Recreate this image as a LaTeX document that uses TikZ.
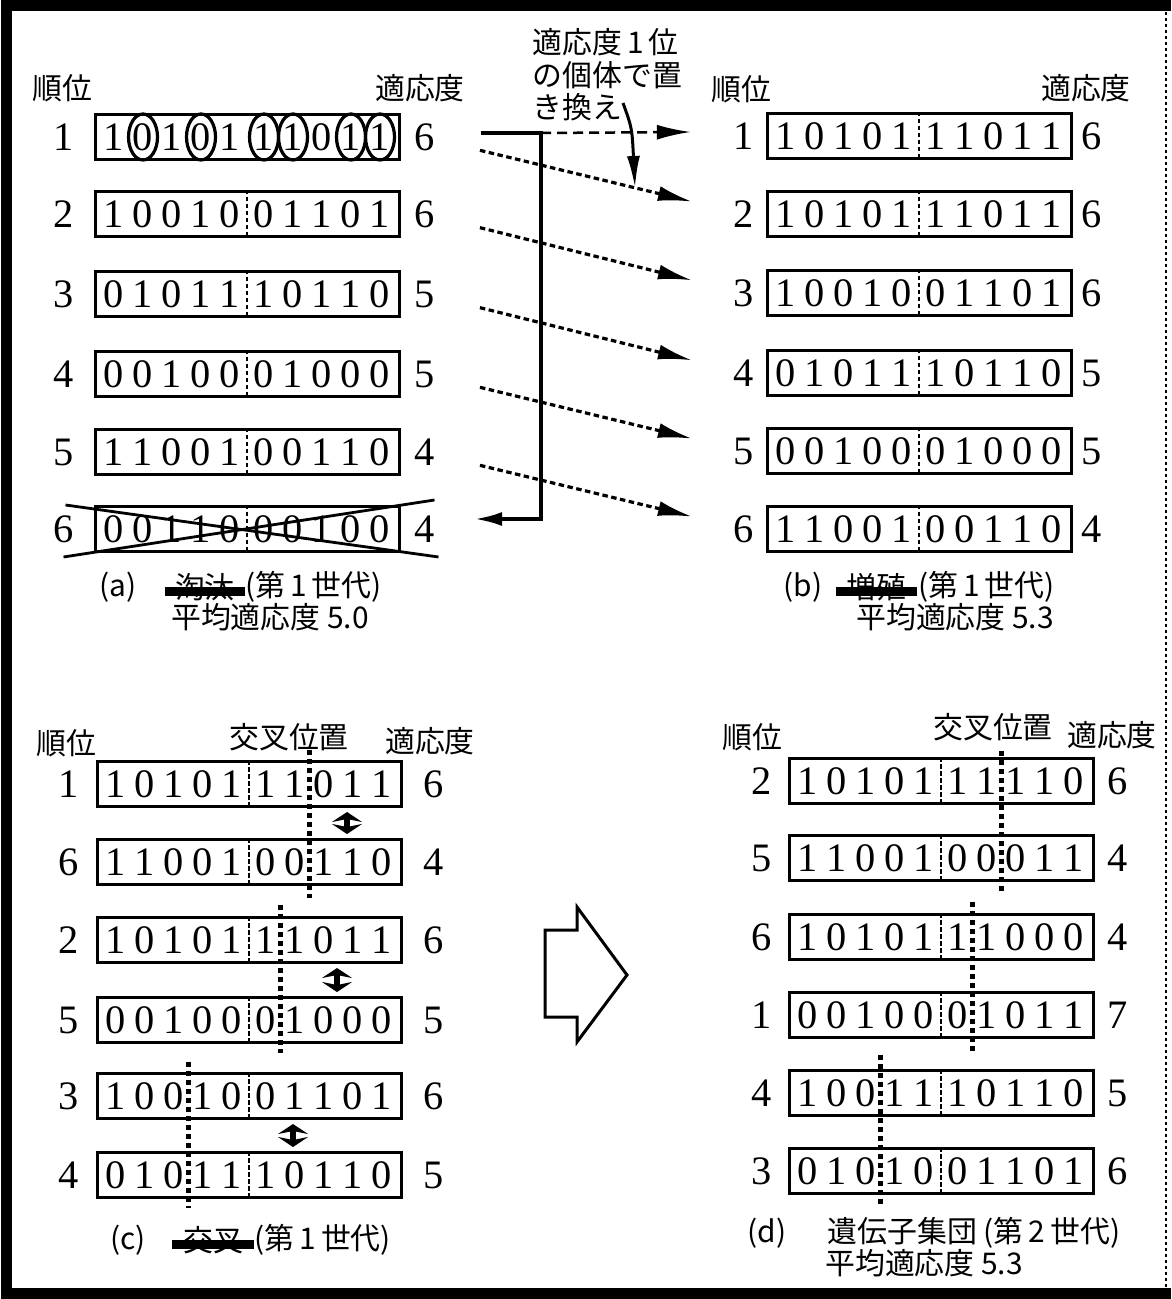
\documentclass[tikz,border=0pt]{standalone}
\usepackage{fontspec}
\setmainfont{Liberation Serif}
\newfontfamily\jp{Noto Sans CJK JP}
\usetikzlibrary{arrows.meta,positioning,calc,shapes.geometric}

% one chromosome: name, centre, bits, rank, fitness
\newcommand\chromo[5]{%
  \node[chrom] (#1) at (#2) {};
  \node[num, left=\rgap of #1] (#1r) {#4};
  \node[num, right=\fgap of #1] (#1f) {#5};
  \foreach \b [count=\i] in {#3} {
    \pgfmathsetmacro\bx{(\i<6) ? (-133+29*(\i-1)) : (17+29*(\i-6))}
    \node[bit] (#1b\i) at ($(#1)+(\bx,0)$) {\b};
  }
}

\begin{document}
\begin{tikzpicture}[
    x=0.1mm, y=-0.1mm,
    chrom/.style={draw, line width=0.3mm, minimum width=30.4mm, minimum height=4.5mm, inner sep=0pt},
    bit/.style={font=\fontsize{11.5}{12}\selectfont, inner sep=0pt},
    num/.style={font=\fontsize{11.5}{12}\selectfont, inner sep=1pt},
    head/.style={font=\jp\fontsize{8.5}{9}\selectfont, inner sep=0pt},
    cut/.style={line width=0.28mm, dash pattern=on 0.45mm off 0.25mm},
    xover/.style={line width=0.45mm, dash pattern=on 0.5mm off 0.4mm},
    circ/.style={draw, ellipse, line width=0.32mm, minimum width=2.9mm, minimum height=4.6mm, inner sep=0pt},
    cross/.style={line width=0.28mm},
    keep/.style={line width=0.32mm, dash pattern=on 0.55mm off 0.35mm, shorten <=4.2mm, shorten >=3.8mm, -{Latex[length=3.4mm,width=1.5mm]}},
    best/.style={line width=0.25mm, dash pattern=on 1mm off 0.6mm, -{Latex[length=3.4mm,width=1.5mm]}},
    elim/.style={line width=0.4mm, -{Latex[length=2.8mm,width=1.4mm]}},
    pointer/.style={line width=0.3mm, -{Latex[length=3.2mm,width=1.3mm]}},
    swap/.style={line width=0.6mm, {Stealth[length=1mm,width=3mm,inset=0.3mm]}-{Stealth[length=1mm,width=3mm,inset=0.3mm]}},
    frame/.style={line width=1.1mm}
  ]
  \useasboundingbox (0,0) rectangle (1171,1299);

  % frame
  \draw[frame] (1171,6) -- (6,6) -- (6,1293) -- (1171,1293);
  \draw[line width=0.2mm, dash pattern=on 0.3mm off 0.3mm] (1166,6) -- (1166,1293);

  % (a)
  \node[head] (aho) at (62,88) {順位};
  \node[head] (ahf) at (420,88) {適応度};
  \def\rgap{1.6mm}\def\fgap{1mm}
  \chromo{a1}{247,137}{1,0,1,0,1,1,1,0,1,1}{1}{6}
  \chromo{a2}{247,214}{1,0,0,1,0,0,1,1,0,1}{2}{6}
  \chromo{a3}{247,294}{0,1,0,1,1,1,0,1,1,0}{3}{5}
  \chromo{a4}{247,374}{0,0,1,0,0,0,1,0,0,0}{4}{5}
  \chromo{a5}{247,452}{1,1,0,0,1,0,0,1,1,0}{5}{4}
  \chromo{a6}{247,529}{0,0,1,1,0,0,0,1,0,0}{6}{4}
  \foreach \k in {2,4,6,7,9,10}
    \node[circ] (a1c\k) at (a1b\k) {};
  \draw[cross] ($(a6.north west)+(-28,0)$) -- ($(a6.south east)+(38,4)$);
  \draw[cross] ($(a6.south west)+(-30,4)$) -- ($(a6.north east)+(34,-5)$);
  \node[head] (capa) at (118,587) {(a)};
  \node[head, minimum width=7.8mm, right=2.8mm of capa] (capaw) {淘汰};
  \fill (capaw.west) rectangle ($(capaw.east)+(0,9)$);
  \node[head, right=0pt of capaw] (capag) {(第\,1\,世代)};
  \node[head] (capam) at (270,617) {平均適応度\ 5.0};

  % (b)
  \node[head] (bho) at (741,89) {順位};
  \node[head] (bhf) at (1086,88) {適応度};
  \def\rgap{0.8mm}\def\fgap{0.5mm}
  \chromo{b1}{919,136}{1,0,1,0,1,1,1,0,1,1}{1}{6}
  \chromo{b2}{919,214}{1,0,1,0,1,1,1,0,1,1}{2}{6}
  \chromo{b3}{919,293}{1,0,0,1,0,0,1,1,0,1}{3}{6}
  \chromo{b4}{919,373}{0,1,0,1,1,1,0,1,1,0}{4}{5}
  \chromo{b5}{919,451}{0,0,1,0,0,0,1,0,0,0}{5}{5}
  \chromo{b6}{919,529}{1,1,0,0,1,0,0,1,1,0}{6}{4}
  \node[head] (capb) at (803,587) {(b)};
  \node[head, minimum width=8mm, right=1.3mm of capb] (capbw) {増殖};
  \fill (capbw.west) rectangle ($(capbw.east)+(0,9)$);
  \node[head, right=0pt of capbw] (capbg) {(第\,1\,世代)};
  \node[head] (capbm) at (955,617) {平均適応度\ 5.3};

  % selection arrows
  \draw[elim] ($(a1f.east)+(42,-4)$) -- ($(a1f.east)+(102,-4)$) |- ($(a6f.east)+(35,-10)$);
  \draw[best] ($(a1f.east)+(102,-4)$) -- ($(b1r.west)+(-38,-4)$);
  \foreach \i/\j in {1/2,2/3,3/4,4/5,5/6}
    \draw[keep] (a\i f) -- (b\j r);
  \node[head, anchor=north west, align=left, font=\jp\fontsize{8.5}{9.2}\selectfont] (note) at (532,28)
    {適応度\,1\,位\\の個体で置\\き換え};
  \coordinate (notetail) at (623,103);
  \coordinate (notetip) at (635,188);
  \draw[pointer] (notetail) .. controls (632,128) .. (notetip);

  % (c)
  \node[head] (cho) at (66,743) {順位};
  \node[head] (chx) at (289,737) {交叉位置};
  \node[head] (chf) at (430,741) {適応度};
  \def\rgap{1.3mm}\def\fgap{1.7mm}
  \chromo{c1}{249,784}{1,0,1,0,1,1,1,0,1,1}{1}{6}
  \chromo{c2}{249,862}{1,1,0,0,1,0,0,1,1,0}{6}{4}
  \chromo{c3}{249,940}{1,0,1,0,1,1,1,0,1,1}{2}{6}
  \chromo{c4}{249,1020}{0,0,1,0,0,0,1,0,0,0}{5}{5}
  \chromo{c5}{249,1096}{1,0,0,1,0,0,1,1,0,1}{3}{6}
  \chromo{c6}{249,1175}{0,1,0,1,1,1,0,1,1,0}{4}{5}
  \draw[xover] ($(c1b7)!.5!(c1b8)+(0,-34)$) -- ($(c2b7)!.5!(c2b8)+(0,36)$);
  \draw[xover] ($(c3b6)!.5!(c3b7)+(0,-35)$) -- ($(c4b6)!.5!(c4b7)+(0,33)$);
  \draw[xover] ($(c5b3)!.5!(c5b4)+(0,-34)$) -- ($(c6b3)!.5!(c6b4)+(0,33)$);
  \draw[swap] ($(c1.south)+(98,4)$) -- ($(c2.north)+(98,-4)$);
  \draw[swap] ($(c3.south)+(88,4)$) -- ($(c4.north)+(88,-4)$);
  \draw[swap] ($(c5.south)+(44,4)$) -- ($(c6.north)+(44,-4)$);
  \node[head] (capc) at (128,1240) {(c)};
  \node[head, minimum width=8mm, right=2.6mm of capc] (capcw) {交叉};
  \fill (capcw.west) rectangle ($(capcw.east)+(0,9)$);
  \node[head, right=0pt of capcw] (capcg) {(第\,1\,世代)};

  % generation step
  \draw[line width=0.3mm, line join=miter] (545,930) -- (577,930) -- (577,907) -- (627,975)
    -- (577,1042) -- (577,1017) -- (545,1017) -- cycle;

  % (d)
  \node[head] (dho) at (752,737) {順位};
  \node[head] (dhx) at (993,727) {交叉位置};
  \node[head] (dhf) at (1112,735) {適応度};
  \def\rgap{1.2mm}\def\fgap{0.9mm}
  \chromo{d1}{941,781}{1,0,1,0,1,1,1,1,1,0}{2}{6}
  \chromo{d2}{941,858}{1,1,0,0,1,0,0,0,1,1}{5}{4}
  \chromo{d3}{941,937}{1,0,1,0,1,1,1,0,0,0}{6}{4}
  \chromo{d4}{941,1015}{0,0,1,0,0,0,1,0,1,1}{1}{7}
  \chromo{d5}{941,1093}{1,0,0,1,1,1,0,1,1,0}{4}{5}
  \chromo{d6}{941,1171}{0,1,0,1,0,0,1,1,0,1}{3}{6}
  \draw[xover] ($(d1b7)!.5!(d1b8)+(0,-30)$) -- ($(d2b7)!.5!(d2b8)+(0,35)$);
  \draw[xover] ($(d3b6)!.5!(d3b7)+(0,-35)$) -- ($(d4b6)!.5!(d4b7)+(0,37)$);
  \draw[xover] ($(d5b3)!.5!(d5b4)+(0,-38)$) -- ($(d6b3)!.5!(d6b4)+(0,34)$);
  \node[head] (capd) at (767,1233) {(d)};
  \node[head, anchor=west] (capdg) at (827,1233) {遺伝子集団\ (第\,2\,世代)};
  \node[head] (capdm) at (924,1263) {平均適応度\ 5.3};

  % dividers
  \foreach \n in {a2,a3,a4,a5,a6,b1,b2,b3,b4,b5,b6,c1,c2,c3,c4,c5,c6,d1,d2,d3,d4,d5,d6}
    \draw[cut] (\n.north) -- (\n.south);
\end{tikzpicture}
\end{document}
